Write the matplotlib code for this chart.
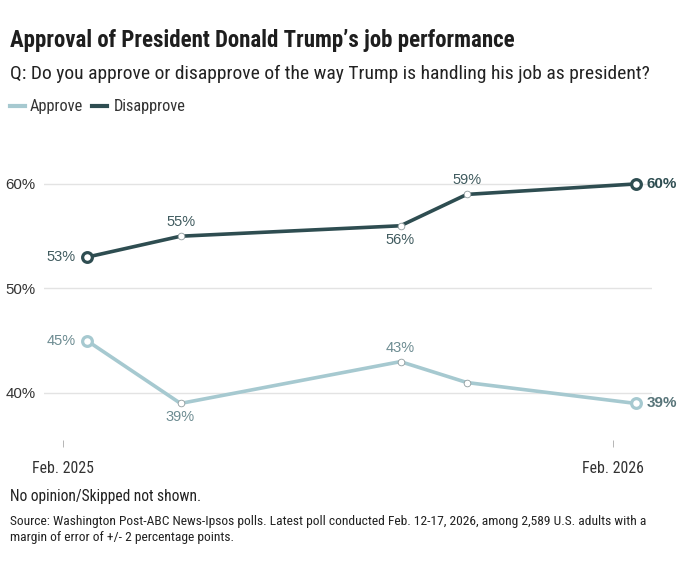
import matplotlib
matplotlib.use("Agg")
import matplotlib.pyplot as plt
import matplotlib.dates as mdates
from datetime import datetime

# poll dates and results (percent)
poll_dates = ["2025-02-17", "2025-04-20", "2025-09-13", "2025-10-27", "2026-02-16"]
approve = [45, 39, 43, 41, 39]
disapprove = [53, 55, 56, 59, 60]
# where each point's label goes: left / above / below / none / right
approve_pos = ["left", "below", "above", "none", "right"]
disapprove_pos = ["left", "above", "below", "above", "right"]

x_tick_dates = ["2025-02-01", "2026-02-01"]
x_tick_labels = ["Feb. 2025", "Feb. 2026"]
y_ticks = [40, 50, 60]

title = "Approval of President Donald Trump\u2019s job performance"
subtitle = "Q: Do you approve or disapprove of the way Trump is handling his job as president?"
note = "No opinion/Skipped not shown."
source = ("Source: Washington Post-ABC News-Ipsos polls. Latest poll conducted Feb. 12-17, 2026, among 2,589 U.S. adults with a\n"
          "margin of error of +/- 2 percentage points.")

narrow = ["Liberation Sans Narrow", "Roboto Condensed", "DejaVu Sans"]
plain = ["Liberation Sans", "DejaVu Sans"]

c_app = "#a6c9d0"
c_dis = "#2e4d51"
c_app_txt = "#6d8c92"
c_dis_txt = "#405b5f"

W, H = 690, 570
fig = plt.figure(figsize=(W / 100, H / 100), dpi=100)
fig.patch.set_facecolor("white")

# axes placed by pixel box
left, right, top, bottom = 44, 652, 150, 440
ax = fig.add_axes([left / W, 1 - bottom / H, (right - left) / W, (bottom - top) / H])

x = [mdates.date2num(datetime.strptime(d, "%Y-%m-%d")) for d in poll_dates]
xt = [mdates.date2num(datetime.strptime(d, "%Y-%m-%d")) for d in x_tick_dates]

ax.set_xlim(xt[0] - 12.6, xt[1] + 25.9)
ax.set_ylim(35.5, 63.25)

for v in y_ticks:
    ax.axhline(v, color="#e3e3e3", lw=1, zorder=0)

for vals, col, txtcol, endcol, pos in [(approve, c_app, c_app_txt, "#577479", approve_pos),
                                        (disapprove, c_dis, c_dis_txt, c_dis, disapprove_pos)]:
    ax.plot(x, vals, color=col, lw=2.6, zorder=2, solid_capstyle="round")
    # small hollow markers in the middle
    ax.plot(x[1:-1], vals[1:-1], ls="none", marker="o", ms=4.8, mfc="white",
            mec="#909c9e", mew=0.6, zorder=3)
    # bigger end markers
    ax.plot([x[0], x[-1]], [vals[0], vals[-1]], ls="none", marker="o", ms=7,
            mfc="white", mec=col, mew=2.3, zorder=4)
    for xi, v, p in zip(x, vals, pos):
        lab = f"{v}%"
        if p == "left":
            ax.annotate(lab, (xi, v), xytext=(-8, 0), textcoords="offset points",
                        ha="right", va="center", fontsize=10.5, color=txtcol, family=plain)
        elif p == "above":
            ax.annotate(lab, (xi, v), xytext=(0, 5), textcoords="offset points",
                        ha="center", va="bottom", fontsize=10.5, color=txtcol, family=plain)
        elif p == "below":
            ax.annotate(lab, (xi, v), xytext=(0, -5), textcoords="offset points",
                        ha="center", va="top", fontsize=10.5, color=txtcol, family=plain)
        elif p == "right":
            ax.annotate(lab, (xi, v), xytext=(8, 0), textcoords="offset points",
                        ha="left", va="center", fontsize=11, fontweight="bold",
                        color=endcol, family=plain)

for s in ax.spines.values():
    s.set_visible(False)
ax.set_yticks(y_ticks)
ax.set_yticklabels([f"{v}%" for v in y_ticks], family=plain, fontsize=10.8, color="#333333")
ax.tick_params(axis="y", length=0, pad=6)
ax.set_xticks(xt)
ax.set_xticklabels(x_tick_labels, family=narrow, fontsize=11.4, color="#333333")
ax.tick_params(axis="x", length=5, width=0.6, color="#aaaaaa", pad=10)
ax.patch.set_alpha(0)

# header text
fig.text(10 / W, 1 - 40 / H, title, fontsize=16.5, fontweight="bold", family=narrow,
         color="#1e1e1e", va="center", ha="left")
fig.text(10 / W, 1 - 74 / H, subtitle, fontsize=14, family=narrow,
         color="#222222", va="center", ha="left")

# legend
fig.add_artist(plt.Line2D([10 / W, 25 / W], [1 - 106 / H] * 2, color=c_app, lw=3))
fig.text(30 / W, 1 - 106 / H, "Approve", fontsize=11.8, family=narrow, color="#333333",
         va="center", ha="left")
fig.add_artist(plt.Line2D([92 / W, 107 / W], [1 - 106 / H] * 2, color=c_dis, lw=3))
fig.text(114 / W, 1 - 106 / H, "Disapprove", fontsize=11.8, family=narrow, color="#333333",
         va="center", ha="left")

# footer
fig.text(10 / W, 1 - 497 / H, note, fontsize=11.2, family=narrow, color="#222222",
         va="center", ha="left")
fig.text(10 / W, 1 - 515 / H, source, fontsize=9.7, family=narrow, color="#222222",
         va="top", ha="left", linespacing=1.3)

fig.savefig("out.png", dpi=100, facecolor="white")
